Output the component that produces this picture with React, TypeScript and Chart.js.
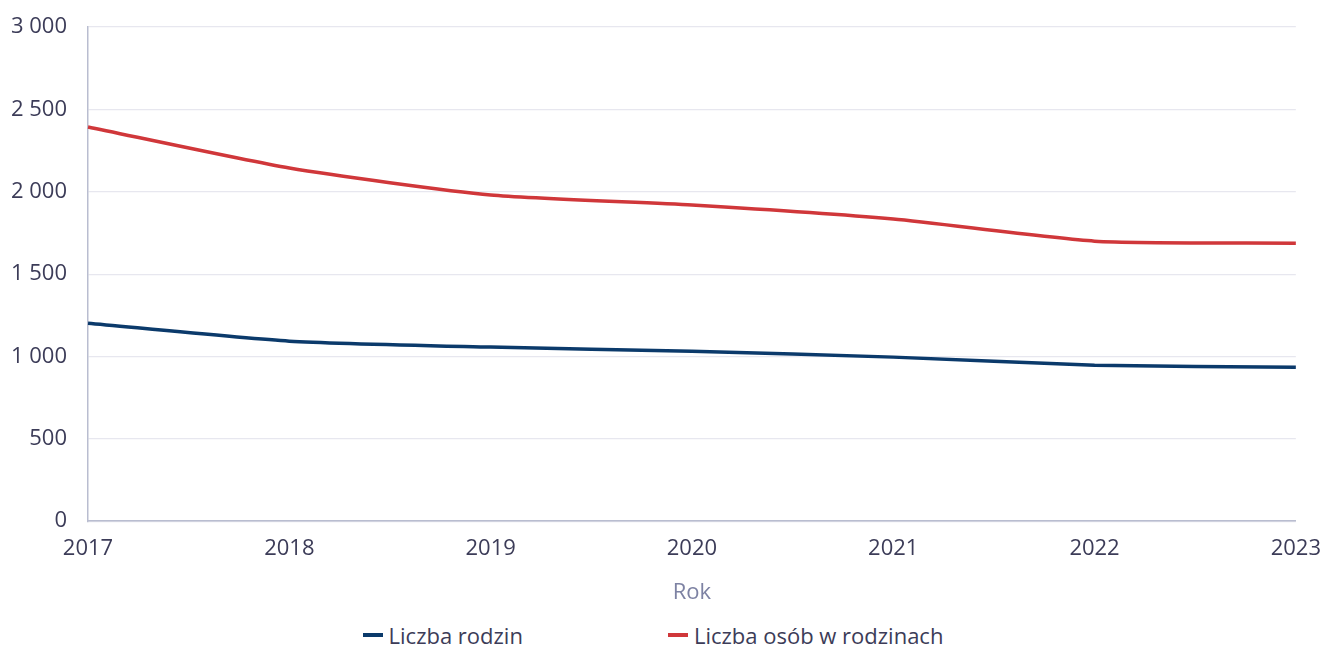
import React, { useEffect, useRef } from "react";
import { Chart, registerables } from "chart.js";

Chart.register(...registerables);

const years = ["2017", "2018", "2019", "2020", "2021", "2022", "2023"];
const liczbaRodzin = [1202, 1093, 1057, 1032, 996, 947, 935];
const liczbaOsob = [2393, 2144, 1980, 1919, 1834, 1700, 1688];
const seriesNames = ["Liczba rodzin", "Liczba osób w rodzinach"];
const axisTitleX = "Rok";

const BLUE = "#0b3a6b";
const RED = "#d0373a";
const TEXT = "#3c3c58";
const FONT = "'Open Sans', sans-serif";
const FS = 22;

const fmt = (v: number) =>
  String(Math.round(v)).replace(/\B(?=(\d{3})+(?!\d))/g, " ");

export default function App() {
  const ref = useRef<HTMLCanvasElement | null>(null);

  useEffect(() => {
    if (!ref.current) return;
    const chart = new Chart(ref.current, {
      type: "line",
      data: {
        labels: years,
        datasets: [
          {
            label: seriesNames[0],
            data: liczbaRodzin,
            borderColor: BLUE,
            backgroundColor: BLUE,
            borderWidth: 3.5,
            pointRadius: 0,
            tension: 0.2,
          },
          {
            label: seriesNames[1],
            data: liczbaOsob,
            borderColor: RED,
            backgroundColor: RED,
            borderWidth: 3.5,
            pointRadius: 0,
            tension: 0.2,
          },
        ],
      },
      options: {
        animation: false,
        responsive: true,
        maintainAspectRatio: false,
        layout: { padding: { left: 11, top: 27, right: 0, bottom: 0 } },
        plugins: {
          legend: { display: false },
          tooltip: { enabled: false },
        },
        scales: {
          x: {
            offset: false,
            grid: {
              display: false,
              drawTicks: true,
              tickLength: 14,
              tickColor: "rgba(0,0,0,0)",
            },
            border: { display: true, color: "#b9bdd0", width: 1.5 },
            ticks: {
              color: TEXT,
              font: { family: FONT, size: FS },
              padding: 0,
              maxRotation: 0,
            },
            title: {
              display: true,
              text: axisTitleX,
              color: "#7d82a3",
              font: { family: FONT, size: FS },
              padding: { top: 18, bottom: 0 },
            },
          },
          y: {
            min: 0,
            max: 3000,
            grid: {
              color: "#e7e7ef",
              lineWidth: 1.2,
              drawTicks: true,
              tickLength: 21,
              tickColor: "rgba(0,0,0,0)",
            },
            border: { display: true, color: "#b9bdd0", width: 1.5 },
            ticks: {
              stepSize: 500,
              color: TEXT,
              font: { family: FONT, size: FS },
              padding: 0,
              callback: (v: any) => fmt(Number(v)),
            },
          },
        },
      },
    });
    return () => chart.destroy();
  }, []);

  const legendItem = (name: string, color: string) => (
    <div style={{ display: "flex", alignItems: "center" }}>
      <span
        style={{
          display: "inline-block",
          width: 20,
          height: 4,
          background: color,
          marginRight: 6,
        }}
      />
      <span style={{ color: TEXT, fontFamily: FONT, fontSize: FS }}>{name}</span>
    </div>
  );

  return (
    <div
      style={{
        position: "absolute",
        left: 0,
        top: 0,
        width: 1321,
        height: 649,
        background: "#fff",
      }}
    >
      <div style={{ position: "relative", width: 1321, height: 606 }}>
        <canvas ref={ref} />
      </div>
      <div
        style={{
          display: "flex",
          justifyContent: "center",
          gap: 145,
          paddingRight: 15,
          marginTop: 14,
        }}
      >
        {legendItem(seriesNames[0], BLUE)}
        {legendItem(seriesNames[1], RED)}
      </div>
    </div>
  );
}
